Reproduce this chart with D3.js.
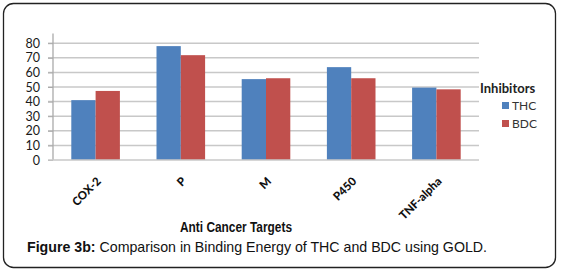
<!DOCTYPE html>
<html>
<head>
<meta charset="utf-8">
<script src="https://cdn.jsdelivr.net/npm/d3@7"></script>
<style>
  body { margin: 0; background: #fff; }
  svg { display: block; }
</style>
</head>
<body>
<div id="chart"></div>
<script>
const targets = ["COX-2", "P", "M", "P450", "TNF-alpha"];
const series = ["THC", "BDC"];
const thc = [41, 78, 55.4, 63.6, 49.6];
const bdc = [47.3, 71.8, 56, 56, 48.4];
const yTicks = [0, 10, 20, 30, 40, 50, 60, 70, 80, 90];
const colors = ["#4f81bd", "#c0504d"];

const width = 561, height = 273;
const svg = d3.select("#chart").append("svg")
    .attr("width", width)
    .attr("height", height);

// frame
svg.append("rect")
    .attr("x", 3.5).attr("y", 3.5)
    .attr("width", 552).attr("height", 264)
    .attr("rx", 10)
    .attr("fill", "#fff")
    .attr("stroke", "#222")
    .attr("stroke-width", 1.3);

const mLeft = 53, mRight = 479, mTop = 14, mBottom = 160;

const x = d3.scaleBand().domain(targets).range([mLeft, mRight]).paddingInner(0).paddingOuter(0);
const xs = d3.scaleBand().domain(series).range([18.3, x.bandwidth() - 18.3]);
const y = d3.scaleLinear().domain([0, 100]).range([mBottom, mTop]);

svg.append("clipPath").attr("id", "clip")
  .append("rect").attr("x", 0).attr("y", 33.5).attr("width", width).attr("height", 140);

const g = svg.append("g").attr("clip-path", "url(#clip)");

// gridlines
g.selectAll(".grid").data(yTicks.slice(1)).enter()
  .append("line")
    .attr("x1", mLeft - 5).attr("x2", mRight)
    .attr("y1", d => y(d)).attr("y2", d => y(d))
    .attr("stroke", "#c8c8c8")
    .attr("stroke-width", 1.5);

// bars
const rows = targets.map((t, i) => ({ target: t, values: [thc[i], bdc[i]] }));
const groups = g.selectAll(".grp").data(rows).enter()
  .append("g")
    .attr("transform", d => `translate(${x(d.target)},0)`);

groups.selectAll("rect").data(d => d.values.map((v, j) => ({ s: series[j], v, j }))).enter()
  .append("rect")
    .attr("x", d => xs(d.s))
    .attr("y", d => y(d.v))
    .attr("width", xs.bandwidth())
    .attr("height", d => mBottom - y(d.v))
    .attr("fill", d => colors[d.j]);

// y axis
const yAxis = d3.axisLeft(y).tickValues(yTicks).tickSize(5).tickPadding(8);
const ya = g.append("g").attr("transform", `translate(${mLeft},0)`).call(yAxis);
ya.select(".domain").attr("stroke", "#aaa").attr("stroke-width", 1.3).attr("d", `M0,${mTop}V${mBottom}`);
ya.selectAll(".tick line").attr("stroke", "#aaa");
ya.selectAll(".tick text")
    .attr("font-family", "Lato, 'Open Sans', sans-serif")
    .attr("font-size", 12.5)
    .attr("fill", "#1a1a1a");

// x baseline
svg.append("line")
    .attr("x1", mLeft - 5).attr("x2", mRight)
    .attr("y1", mBottom).attr("y2", mBottom)
    .attr("stroke", "#c8c8c8").attr("stroke-width", 1.5);

// x labels
svg.selectAll(".xl").data(targets).enter()
  .append("text")
    .attr("transform", d => `translate(${x(d) + x.bandwidth() / 2 + 6},${182}) rotate(-45)`)
    .attr("text-anchor", "end")
    .attr("font-family", "Lato, 'Open Sans', sans-serif")
    .attr("font-weight", 900)
    .attr("font-size", 11.5)
    .attr("fill", "#111")
    .text(d => d);

// axis title
svg.append("text")
    .attr("x", 180).attr("y", 232)
    .attr("textLength", 112)
    .attr("lengthAdjust", "spacingAndGlyphs")
    .attr("font-family", "'Liberation Sans', sans-serif")
    .attr("font-weight", "bold")
    .attr("font-size", 14.5)
    .attr("fill", "#111")
    .text("Anti Cancer Targets");

// legend
svg.append("text")
    .attr("x", 480).attr("y", 93)
    .attr("font-family", "Lato, 'Open Sans', sans-serif")
    .attr("font-weight", "bold")
    .attr("font-size", 13)
    .attr("fill", "#222")
    .text("Inhibitors");

const leg = svg.selectAll(".leg").data(series).enter()
  .append("g")
    .attr("transform", (d, i) => `translate(502,${102 + i * 18})`);
leg.append("rect").attr("width", 7).attr("height", 7).attr("fill", (d, i) => colors[i]);
leg.append("text")
    .attr("x", 10).attr("y", 4).attr("dy", "0.35em")
    .attr("font-family", "Lato, 'Open Sans', sans-serif")
    .attr("font-size", 12)
    .attr("fill", "#333")
    .text(d => d);

// caption
const cap = svg.append("text")
    .attr("x", 27).attr("y", 252)
    .attr("textLength", 460)
    .attr("font-family", "'Liberation Sans', Arial, sans-serif")
    .attr("font-size", 14.2)
    .attr("fill", "#111");
cap.append("tspan").attr("font-weight", "bold").text("Figure 3b:");
cap.append("tspan").text(" Comparison in Binding Energy of THC and BDC using GOLD.");
</script>
</body>
</html>
